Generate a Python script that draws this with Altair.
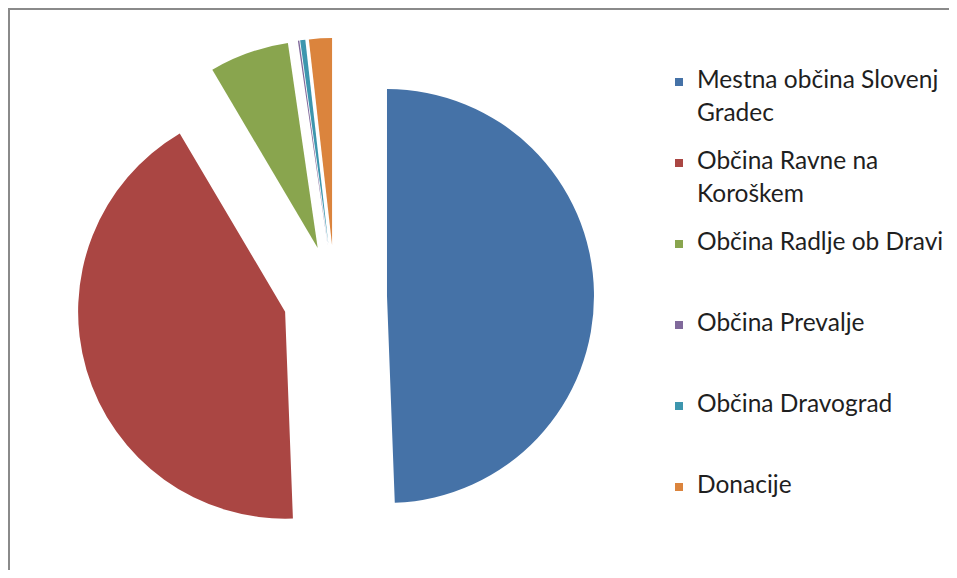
import altair as alt
import pandas as pd

# ---- data ----
names = [
    "Mestna občina Slovenj Gradec",
    "Občina Ravne na Koroškem",
    "Občina Radlje ob Dravi",
    "Občina Prevalje",
    "Občina Dravograd",
    "Donacije",
]
legend_labels = [
    "Mestna občina Slovenj\nGradec",
    "Občina Ravne na\nKoroškem",
    "Občina Radlje ob Dravi",
    "Občina Prevalje",
    "Občina Dravograd",
    "Donacije",
]
values = [49.4, 42.1, 6.2, 0.11, 0.40, 1.79]
colors = ["#4572A7", "#AA4643", "#89A54E", "#80699B", "#3D96AE", "#DB843D"]
title_text = "Sredstva v upravljanju po deležih ustanoviteljev"

# ---- layout constants ----
W, H = 941, 562
CX, CY = 327, 289      # pie centre (px)
R = 207                # pie radius (px)
EXPLODE = 52           # explosion distance (px)

df = pd.DataFrame({"name": names, "value": values, "order": list(range(len(names)))})
leg = pd.DataFrame({"name": names, "label": legend_labels, "order": list(range(len(names)))})

color_scale = alt.Scale(domain=names, range=colors)

pie = (
    alt.Chart(df)
    .transform_window(cum="sum(value)", sort=[alt.SortField("order")])
    .transform_joinaggregate(total="sum(value)")
    .transform_calculate(
        t1="2*PI*datum.cum/datum.total",
        t0="2*PI*(datum.cum-datum.value)/datum.total",
    )
    .transform_calculate(mid="(datum.t0+datum.t1)/2")
    .transform_calculate(
        cx=f"{CX}+{EXPLODE}*sin(datum.mid)",
        cy=f"{CY}-{EXPLODE}*cos(datum.mid)",
    )
    .mark_arc(radius=R)
    .encode(
        theta=alt.Theta("t0:Q", scale=None, stack=None),
        theta2="t1:Q",
        x=alt.X("cx:Q", scale=None, axis=None),
        y=alt.Y("cy:Q", scale=None, axis=None),
        color=alt.Color("name:N", scale=color_scale, legend=None),
    )
)

leg_y = alt.Y("order:O", scale=alt.Scale(type="point", range=[80, 485], padding=0), axis=None)

leg_sq = (
    alt.Chart(leg)
    .mark_square(size=64, yOffset=-6, opacity=1)
    .encode(
        x=alt.value(671),
        y=leg_y,
        color=alt.Color("name:N", scale=color_scale, legend=None),
    )
)

leg_txt = (
    alt.Chart(leg)
    .mark_text(
        align="left",
        baseline="alphabetic",
        font="Lato",
        fontSize=24.5,
        lineBreak="\n",
        lineHeight=33,
        color="#1f1f1f",
    )
    .encode(x=alt.value(689), y=leg_y, text="label:N")
)

legend = alt.layer(leg_sq, leg_txt)

one = pd.DataFrame({"t": [title_text]})
frame_top = (
    alt.Chart(one)
    .mark_rule(stroke="#8a8a8a", strokeWidth=2)
    .encode(x=alt.value(0), x2=alt.value(W), y=alt.value(1))
)
frame_left = (
    alt.Chart(one)
    .mark_rule(stroke="#8a8a8a", strokeWidth=2)
    .encode(x=alt.value(1), y=alt.value(0), y2=alt.value(H))
)
title = (
    alt.Chart(one)
    .mark_text(align="left", baseline="alphabetic", font="Liberation Serif", fontSize=24, color="black")
    .encode(x=alt.value(0), y=alt.value(-8), text="t:N")
)

chart = (
    alt.layer(pie, legend, frame_top, frame_left, title)
    .resolve_scale(x="independent", y="independent", color="shared")
    .properties(width=W, height=H, autosize=alt.AutoSizeParams(type="none"), padding=0)
    .configure_view(stroke="transparent", strokeWidth=0)
    .configure(background="white")
)

chart.save("out.html", embed_options={"renderer": "svg", "actions": False})
